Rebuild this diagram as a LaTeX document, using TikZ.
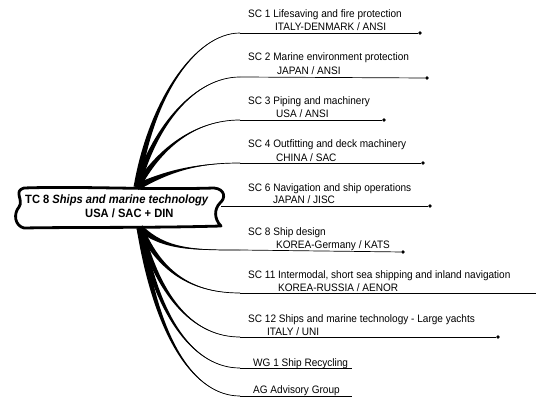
\documentclass[tikz,border=0pt]{standalone}
\usepackage{fontspec}
\setmainfont{Liberation Sans}[FakeStretch=0.93]
\usetikzlibrary{calc}
\newcommand\taper[4]{%
  \fill ($(#1)!3.4pt!90:(#2)$) .. controls ($(#2)!1.4pt!90:(#3)$) and (#3) .. (#4)
        .. controls (#3) and ($(#2)!1.4pt!-90:(#3)$) .. ($(#1)!3.4pt!-90:(#2)$) -- cycle;
  \draw[line width=0.7pt] (#1) .. controls (#2) and (#3) .. (#4);}
\begin{document}
\begin{tikzpicture}[x=1pt,y=-1pt,
  lbl/.style={anchor=base west, inner sep=0pt, font=\fontsize{10.8}{12}\selectfont},
  uline/.style={line width=0.7pt},
  tip/.style={circle, fill, inner sep=0pt, minimum size=3.6pt},
  banner/.style={line width=2.8pt, line join=round, line cap=round},
  head/.style={anchor=base west, inner sep=0pt, font=\fontsize{12}{13}\selectfont\bfseries}]
\useasboundingbox (0,0) rectangle (541,401);
% banner
\draw[banner] (24,188) .. controls (80,186) and (150,190) .. (214,188)
  .. controls (225,189) and (226,198) .. (220,203)
  .. controls (214,209) and (214,219) .. (221,226)
  .. controls (150,228) and (80,227) .. (24,228)
  .. controls (15,226) and (13,214) .. (19,207)
  .. controls (24,200) and (13,191) .. (24,188) -- cycle;
\node[head] (tc) at (25,204) {TC 8 \textit{Ships and marine technology}};
\node[head] (tcb) at (85,218) {USA / SAC + DIN};
\coordinate (o1) at (137,187);
\coordinate (o2) at (140,228);
\coordinate (bx) at (221,206);
% SC 1
\node[lbl] (t1) at (248,18) {SC 1 Lifesaving and fire protection};
\node[lbl] (s1) at (275,31) {ITALY-DENMARK / ANSI};
\coordinate (e1) at (240,33);
\node[tip] (d1) at (420,33) {};
\draw[uline] (e1) -- (d1);
\taper{o1}{150,100}{195,33}{e1}
% SC 2
\node[lbl] (t2) at (248,61) {SC 2 Marine environment protection};
\node[lbl] (s2) at (277,75) {JAPAN / ANSI};
\coordinate (e2) at (240,77);
\node[tip] (d2) at (427,78) {};
\draw[uline] (e2) -- (d2);
\taper{o1}{155,125}{195,77}{e2}
% SC 3
\node[lbl] (t3) at (248,105) {SC 3 Piping and machinery};
\node[lbl] (s3) at (276,118) {USA / ANSI};
\coordinate (e3) at (240,120);
\node[tip] (d3) at (384,120) {};
\draw[uline] (e3) -- (d3);
\taper{o1}{160,148}{195,120}{e3}
% SC 4
\node[lbl] (t4) at (248,148) {SC 4 Outfitting and deck machinery};
\node[lbl] (s4) at (276,161) {CHINA / SAC};
\coordinate (e4) at (240,163);
\node[tip] (d4) at (423,163) {};
\draw[uline] (e4) -- (d4);
\taper{o1}{170,170}{200,163}{e4}
% SC 6
\node[lbl] (t6) at (248,191) {SC 6 Navigation and ship operations};
\node[lbl] (s6) at (273,204) {JAPAN / JISC};
\node[tip] (d6) at (430,206) {};
\draw[uline] (bx) -- (d6);
% SC 8
\node[lbl] (t8) at (248,235) {SC 8 Ship design};
\node[lbl] (s8) at (276,248) {KOREA-Germany / KATS};
\coordinate (e8) at (240,250);
\node[tip] (d8) at (403,252) {};
\draw[uline] (e8) -- (d8);
\taper{o2}{165,250}{195,250}{e8}
% SC 11
\node[lbl] (t11) at (248,278) {SC 11 Intermodal, short sea shipping and inland navigation};
\node[lbl] (s11) at (278,291) {KOREA-RUSSIA / AENOR};
\coordinate (e11) at (240,293);
\coordinate (d11) at (536,293);
\draw[uline] (e11) -- (d11);
\taper{o2}{162,275}{195,293}{e11}
% SC 12
\node[lbl] (t12) at (248,322) {SC 12 Ships and marine technology - Large yachts};
\node[lbl] (s12) at (267,335) {ITALY / UNI};
\coordinate (e12) at (240,337);
\node[tip] (d12) at (498,337) {};
\draw[uline] (e12) -- (d12);
\taper{o2}{160,300}{195,337}{e12}
% WG 1
\node[lbl] (tw) at (253,366) {WG 1 Ship Recycling};
\coordinate (ew) at (240,368);
\coordinate (fw) at (352,368);
\draw[uline] (ew) -- (fw);
\taper{o2}{158,320}{195,368}{ew}
% AG
\node[lbl] (ta) at (253,393) {AG Advisory Group};
\coordinate (ea) at (240,396);
\coordinate (fa) at (352,396);
\draw[uline] (ea) -- (fa);
\taper{o2}{156,340}{195,396}{ea}
\end{tikzpicture}
\end{document}
